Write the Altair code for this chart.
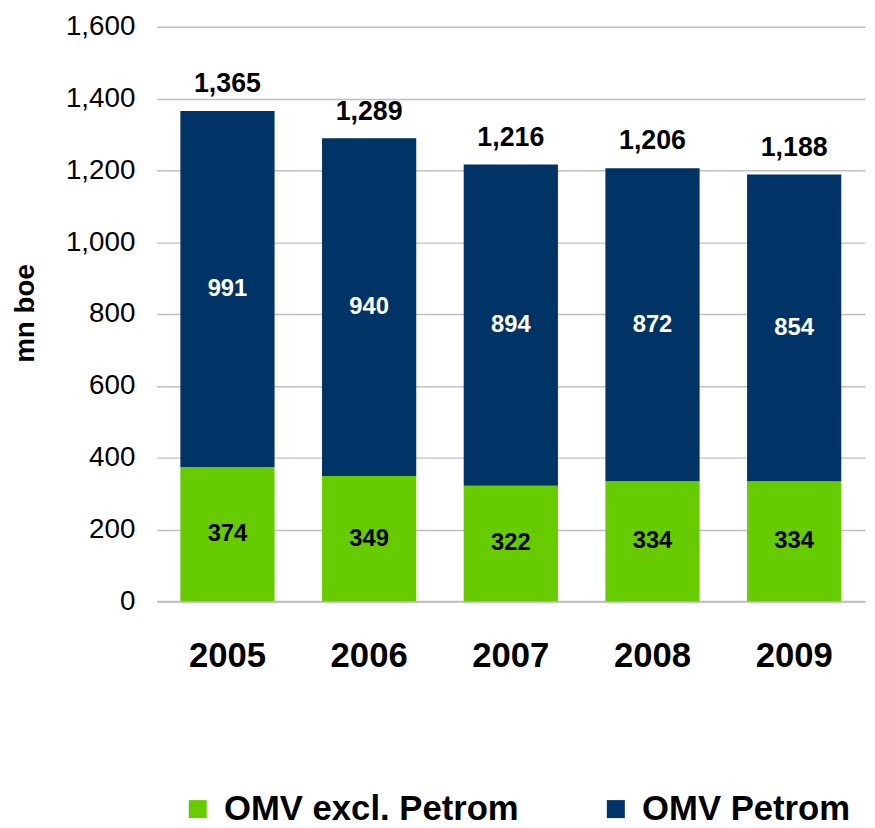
import altair as alt
import pandas as pd

years = ["2005", "2006", "2007", "2008", "2009"]
excl_petrom = [374, 349, 322, 334, 334]
omv_petrom = [991, 940, 894, 872, 854]
totals = [1365, 1289, 1216, 1206, 1188]
series = ["OMV excl. Petrom", "OMV Petrom"]
bar_colors = ["#66CC00", "#003366"]

rows = []
for i, yr in enumerate(years):
    rows.append({"year": yr, "series": series[0], "value": excl_petrom[i], "order": 0})
    rows.append({"year": yr, "series": series[1], "value": omv_petrom[i], "order": 1})
df = pd.DataFrame(rows)
tot = pd.DataFrame({"year": years, "total": totals})

FONT = "Liberation Sans"

xscale = alt.Scale(domain=years, paddingInner=0.335, paddingOuter=0.1675)
yscale = alt.Scale(domain=[0, 1600])

base = alt.Chart(df).transform_stack(
    stack="value", groupby=["year"], sort=[alt.SortField("order")], as_=["y0", "y1"]
).transform_calculate(mid="(datum.y0 + datum.y1) / 2")

bars = base.mark_bar().encode(
    x=alt.X("year:N", scale=xscale, sort=years,
            axis=alt.Axis(title=None, labelAngle=0, labelFontSize=35, labelFontWeight="bold",
                          labelFont=FONT, labelColor="#000000", labelPadding=38,
                          ticks=False, domain=True, domainColor="#BFBFBF", domainWidth=2,
                          grid=False)),
    y=alt.Y("y0:Q", scale=yscale,
            axis=alt.Axis(title="mn boe", values=list(range(0, 1601, 200)), format=",d",
                          labelFontSize=28, labelFont=FONT, labelColor="#000000",
                          labelPadding=22, ticks=False, domain=False,
                          grid=True, gridColor="#BFBFBF", gridWidth=1.5,
                          titleFontSize=28, titleFontWeight="bold", titleFont=FONT,
                          titleColor="#000000", titleAngle=-90, titleX=-132, titleY=289,
                          titleAlign="center", titleBaseline="middle")),
    y2="y1:Q",
    color=alt.Color("series:N", scale=alt.Scale(domain=series, range=bar_colors),
                    legend=alt.Legend(title=None, orient="none", legendX=24, legendY=772,
                                      direction="horizontal", columnPadding=80,
                                      labelFontSize=35, labelFont=FONT,
                                      labelFontWeight="bold", labelColor="#000000",
                                      labelLimit=600, symbolType="square", symbolSize=330,
                                      symbolStrokeWidth=0, labelOffset=9)),
)

seg_labels = base.mark_text(fontSize=24, fontWeight="bold", font=FONT, baseline="middle").encode(
    x=alt.X("year:N", scale=xscale, sort=years),
    y=alt.Y("mid:Q", scale=yscale),
    text=alt.Text("value:Q", format=",d"),
    color=alt.condition(alt.datum.order == 0, alt.value("#000000"), alt.value("#FFFFFF")),
)

tot_labels = alt.Chart(tot).mark_text(fontSize=27, fontWeight="bold", font=FONT,
                                      baseline="middle", dy=-27, color="#000000").encode(
    x=alt.X("year:N", scale=xscale, sort=years),
    y=alt.Y("total:Q", scale=yscale),
    text=alt.Text("total:Q", format=",d"),
)

chart = alt.layer(bars, seg_labels, tot_labels).properties(
    width=715, height=580,
    autosize=alt.AutoSizeParams(type="none"),
    padding={"left": 150, "top": 15, "right": 2, "bottom": 225},
).configure_view(stroke=None)

chart.save("out.html", embed_options={"renderer": "svg", "actions": False})
